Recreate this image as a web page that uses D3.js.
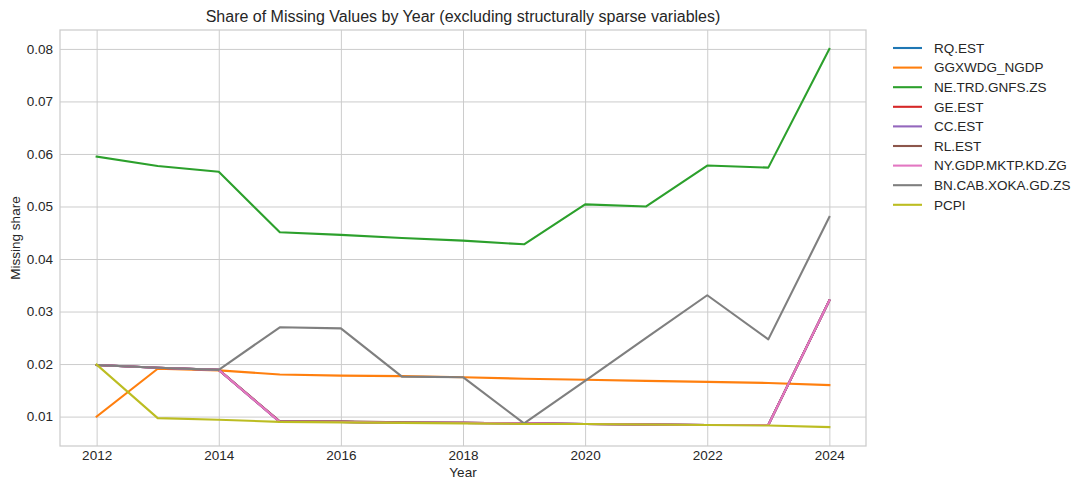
<!DOCTYPE html>
<html>
<head>
<meta charset="utf-8">
<script src="https://cdn.jsdelivr.net/npm/d3@7"></script>
<style>
  html, body { margin: 0; padding: 0; background: #fff; }
  svg { display: block; font-family: "Liberation Sans", Arial, sans-serif; }
</style>
</head>
<body>
<svg id="chart" width="1089" height="490"></svg>
<script>
const years = [2012, 2013, 2014, 2015, 2016, 2017, 2018, 2019, 2020, 2021, 2022, 2023, 2024];

const seriesNames = ["RQ.EST", "GGXWDG_NGDP", "NE.TRD.GNFS.ZS", "GE.EST", "CC.EST", "RL.EST", "NY.GDP.MKTP.KD.ZG", "BN.CAB.XOKA.GD.ZS", "PCPI"];
const seriesColors = ["#1f77b4", "#ff7f0e", "#2ca02c", "#d62728", "#9467bd", "#8c564b", "#e377c2", "#7f7f7f", "#bcbd22"];

const rqEst   = [0.0198, 0.0193, 0.0189, 0.0090, 0.0090, 0.0088, 0.0088, 0.0087, 0.0086, 0.0085, 0.0084, 0.0084, 0.0321];
const ggxwdg  = [0.0100, 0.0191, 0.0188, 0.0180, 0.0178, 0.0177, 0.0175, 0.0172, 0.0170, 0.0168, 0.0166, 0.0164, 0.0160];
const neTrd   = [0.0595, 0.0577, 0.0566, 0.0451, 0.0446, 0.0440, 0.0435, 0.0428, 0.0504, 0.0500, 0.0578, 0.0574, 0.0800];
const geEst   = [0.0198, 0.0193, 0.0189, 0.0090, 0.0090, 0.0088, 0.0088, 0.0087, 0.0086, 0.0085, 0.0084, 0.0084, 0.0321];
const ccEst   = [0.0198, 0.0193, 0.0189, 0.0090, 0.0090, 0.0088, 0.0088, 0.0087, 0.0086, 0.0085, 0.0084, 0.0084, 0.0321];
const rlEst   = [0.0198, 0.0193, 0.0189, 0.0091, 0.0091, 0.0089, 0.0088, 0.0087, 0.0086, 0.0085, 0.0084, 0.0084, 0.0321];
const nyGdp   = [0.0198, 0.0193, 0.0189, 0.0090, 0.0090, 0.0088, 0.0088, 0.0087, 0.0086, 0.0085, 0.0084, 0.0084, 0.0321];
const bnCab   = [0.0198, 0.0193, 0.0189, 0.0270, 0.0268, 0.0176, 0.0175, 0.0087, 0.0168, 0.0250, 0.0331, 0.0247, 0.0480];
const pcpi    = [0.0199, 0.0097, 0.0094, 0.0090, 0.0089, 0.0088, 0.0087, 0.0086, 0.0086, 0.0085, 0.0084, 0.0083, 0.0080];

const seriesValues = [rqEst, ggxwdg, neTrd, geEst, ccEst, rlEst, nyGdp, bnCab, pcpi];

const xTicks = [2012, 2014, 2016, 2018, 2020, 2022, 2024];
const yTicks = [0.01, 0.02, 0.03, 0.04, 0.05, 0.06, 0.07, 0.08];

const titleText = "Share of Missing Values by Year (excluding structurally sparse variables)";
const xLabel = "Year";
const yLabel = "Missing share";

const svg = d3.select("#chart");
const margin = {left: 60, top: 30, right: 866, bottom: 446};
const textColor = "#262626";
const gridColor = "#cccccc";
const fs = 13.5;

const x = d3.scaleLinear().domain([2011.4, 2024.6]).range([margin.left, margin.right]);
const y = d3.scaleLinear().domain([0.0044, 0.0836]).range([margin.bottom, margin.top]);

// grid
const xAxis = d3.axisBottom(x).tickValues(xTicks).tickFormat(d3.format("d"))
  .tickSize(-(margin.bottom - margin.top)).tickPadding(4);
const gx = svg.append("g").attr("transform", `translate(0,${margin.bottom})`).call(xAxis);
gx.select(".domain").remove();
gx.selectAll(".tick line").attr("stroke", gridColor).attr("stroke-width", 1);
gx.selectAll(".tick text").attr("fill", textColor).attr("font-size", fs).attr("font-family", "Liberation Sans, Arial, sans-serif");

const yAxis = d3.axisLeft(y).tickValues(yTicks).tickFormat(d3.format(".2f"))
  .tickSize(-(margin.right - margin.left)).tickPadding(7);
const gy = svg.append("g").attr("transform", `translate(${margin.left},0)`).call(yAxis);
gy.select(".domain").remove();
gy.selectAll(".tick line").attr("stroke", gridColor).attr("stroke-width", 1);
gy.selectAll(".tick text").attr("fill", textColor).attr("font-size", fs).attr("font-family", "Liberation Sans, Arial, sans-serif");

// frame
svg.append("rect")
  .attr("x", margin.left).attr("y", margin.top)
  .attr("width", margin.right - margin.left).attr("height", margin.bottom - margin.top)
  .attr("fill", "none").attr("stroke", gridColor).attr("stroke-width", 1.25);

// lines
const line = d3.line().x((d, i) => x(years[i])).y(d => y(d));
seriesValues.forEach((vals, k) => {
  svg.append("path")
    .datum(vals)
    .attr("d", line)
    .attr("fill", "none")
    .attr("stroke", seriesColors[k])
    .attr("stroke-width", 2.1)
    .attr("stroke-linejoin", "round")
    .attr("stroke-linecap", "square");
});

// title & labels
svg.append("text").attr("x", (margin.left + margin.right) / 2).attr("y", 22)
  .attr("text-anchor", "middle").attr("fill", textColor).attr("font-size", 16)
  .text(titleText);
svg.append("text").attr("x", (margin.left + margin.right) / 2).attr("y", 477)
  .attr("text-anchor", "middle").attr("fill", textColor).attr("font-size", fs)
  .text(xLabel);
svg.append("text").attr("transform", `translate(20,${(margin.top + margin.bottom) / 2}) rotate(-90)`)
  .attr("text-anchor", "middle").attr("fill", textColor).attr("font-size", fs)
  .text(yLabel);

// legend
const lg = svg.append("g");
seriesNames.forEach((name, k) => {
  const yy = 48 + k * 19.6;
  lg.append("line").attr("x1", 893).attr("x2", 922).attr("y1", yy).attr("y2", yy)
    .attr("stroke", seriesColors[k]).attr("stroke-width", 2.1);
  lg.append("text").attr("x", 934).attr("y", yy + 4.8).attr("fill", textColor)
    .attr("font-size", fs).text(name);
});
</script>
</body>
</html>
